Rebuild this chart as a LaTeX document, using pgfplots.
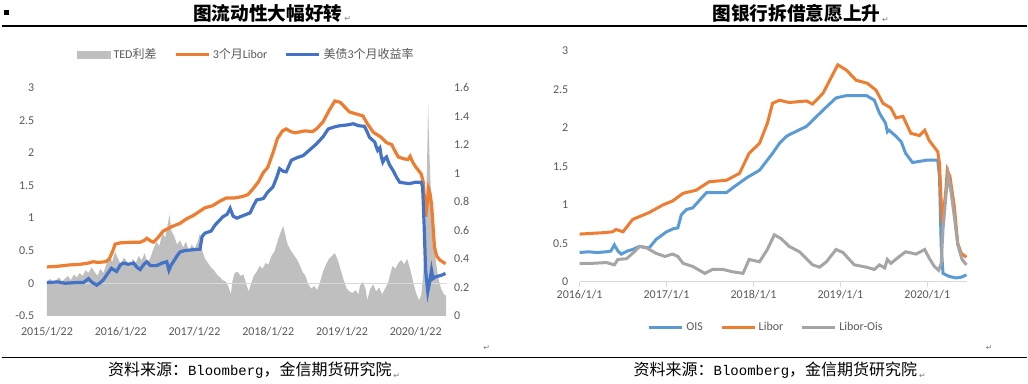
\documentclass[border=0pt]{standalone}
\usepackage{pgfplots}
\pgfplotsset{compat=1.18}
\usepackage{fontspec}
\setmainfont{Carlito}
\newfontfamily\cjk{Noto Sans CJK SC}
\newfontfamily\dejavu{DejaVu Sans}
\newfontfamily\mono{Liberation Mono}
\definecolor{ted}{HTML}{BFBFBF}
\definecolor{org}{HTML}{ED7D31}
\definecolor{blu}{HTML}{4472C4}
\definecolor{ois}{HTML}{5B9BD5}
\definecolor{lo}{HTML}{A5A5A5}
\definecolor{txt}{HTML}{595959}
\definecolor{zl}{HTML}{D9D9D9}
\pgfplotsset{
  base/.style={scale only axis,
    font=\fontsize{9}{10}\selectfont,
    /pgf/number format/assume math mode=true,
    ticklabel style={text=txt, font=\fontsize{9}{10}\selectfont},
    legend style={draw=none, fill=none, text=txt, font=\fontsize{9}{10}\selectfont,
      /tikz/every even column/.append style={column sep=11pt}},
    legend columns=-1,
    legend image code/.code={\draw[##1] (0pt,0pt) -- (24.75pt,0pt);},
  }
}
\begin{document}
\begin{tikzpicture}
\begin{scope}[x=0.75pt,y=0.75pt]
\path[use as bounding box] (0,0) rectangle (1028,384);
\end{scope}
% ---------------- LEFT CHART: TED area (right axis) ----------------
\begin{axis}[base, at={(35.25pt,51pt)}, anchor=south west, width=300pt, height=171pt,
  xmin=2015.056, xmax=2020.476, ymin=0, ymax=1.6,
  axis line style={draw=none}, tick style={draw=none},
  xtick=\empty, ytick={0,0.2,0.4,0.6,0.8,1,1.2,1.4,1.6},
  yticklabels={0,0.2,0.4,0.6,0.8,1,1.2,1.4,1.6},
  yticklabel pos=right, yticklabel style={anchor=west, xshift=2pt}]
\addplot[fill=ted, draw=none] coordinates {
(2015.056,0.24)(2015.10,0.26)(2015.14,0.22)(2015.18,0.25)(2015.22,0.27)(2015.26,0.24)
(2015.30,0.26)(2015.34,0.28)(2015.38,0.25)(2015.42,0.29)(2015.46,0.27)(2015.50,0.30)
(2015.54,0.28)(2015.58,0.32)(2015.62,0.30)(2015.66,0.34)(2015.70,0.31)(2015.74,0.28)
(2015.78,0.33)(2015.82,0.30)(2015.86,0.36)(2015.90,0.42)(2015.94,0.38)(2015.98,0.45)
(2016.02,0.40)(2016.06,0.36)(2016.10,0.41)(2016.14,0.38)(2016.18,0.34)(2016.22,0.40)
(2016.26,0.37)(2016.30,0.42)(2016.34,0.39)(2016.38,0.44)(2016.42,0.37)(2016.46,0.41)
(2016.50,0.47)(2016.54,0.52)(2016.58,0.49)(2016.62,0.58)(2016.66,0.55)(2016.70,0.66)
(2016.72,0.71)(2016.74,0.60)(2016.78,0.56)(2016.82,0.50)(2016.86,0.53)(2016.90,0.48)
(2016.94,0.52)(2016.98,0.46)(2017.02,0.50)(2017.06,0.47)(2017.10,0.52)(2017.13,0.58)
(2017.16,0.46)(2017.20,0.40)(2017.24,0.37)(2017.28,0.34)(2017.32,0.32)(2017.36,0.29)
(2017.40,0.27)(2017.44,0.25)(2017.48,0.24)(2017.52,0.20)(2017.55,0.15)(2017.57,0.24)
(2017.60,0.30)(2017.64,0.31)(2017.68,0.28)(2017.72,0.29)(2017.76,0.22)(2017.79,0.17)
(2017.82,0.22)(2017.86,0.28)(2017.90,0.31)(2017.94,0.35)(2017.98,0.33)(2018.02,0.37)
(2018.06,0.36)(2018.10,0.42)(2018.14,0.45)(2018.18,0.52)(2018.22,0.58)(2018.26,0.63)
(2018.29,0.56)(2018.32,0.50)(2018.36,0.46)(2018.40,0.43)(2018.44,0.40)(2018.48,0.36)
(2018.52,0.31)(2018.56,0.28)(2018.60,0.22)(2018.64,0.19)(2018.68,0.21)(2018.72,0.18)
(2018.76,0.24)(2018.80,0.31)(2018.84,0.36)(2018.88,0.40)(2018.92,0.42)(2018.96,0.44)
(2019.00,0.39)(2019.04,0.32)(2019.08,0.25)(2019.12,0.19)(2019.16,0.17)(2019.20,0.16)
(2019.24,0.18)(2019.28,0.15)(2019.30,0.21)(2019.34,0.24)(2019.38,0.18)(2019.40,0.11)
(2019.44,0.19)(2019.48,0.22)(2019.52,0.17)(2019.56,0.20)(2019.60,0.15)(2019.64,0.19)
(2019.68,0.23)(2019.71,0.29)(2019.74,0.35)(2019.78,0.33)(2019.82,0.37)(2019.86,0.39)
(2019.90,0.36)(2019.94,0.40)(2019.98,0.33)(2020.02,0.24)(2020.06,0.16)(2020.10,0.11)
(2020.13,0.14)(2020.16,0.30)(2020.18,0.55)(2020.20,0.85)(2020.215,1.20)(2020.225,1.49)
(2020.235,1.25)(2020.25,1.02)(2020.27,0.80)(2020.29,0.62)(2020.31,0.50)(2020.33,0.38)
(2020.36,0.27)(2020.40,0.19)(2020.44,0.15)(2020.47,0.14)
} \closedcycle;
\end{axis}
% ---------------- LEFT CHART: lines (left axis) ----------------
\begin{axis}[base, at={(35.25pt,51pt)}, anchor=south west, width=300pt, height=171pt,
  xmin=2015.056, xmax=2020.476, ymin=-0.5, ymax=3,
  axis line style={draw=none}, tick style={draw=none},
  xtick={2015.056,2016.056,2017.056,2018.056,2019.056,2020.056},
  xticklabels={2015/1/22,2016/1/22,2017/1/22,2018/1/22,2019/1/22,2020/1/22},
  ytick={-0.5,0,0.5,1,1.5,2,2.5,3},
  yticklabels={-0.5,0,0.5,1,1.5,2,2.5,3},
  yticklabel style={anchor=east, xshift=-6pt},
  xticklabel style={yshift=-5pt},
  legend style={at={(0.5,1.145)}, anchor=center}]
\addlegendimage{legend image code/.code={\fill[ted] (0pt,-2.4pt) rectangle (24.75pt,2.4pt);}}
\addlegendentry{TED{\cjk 利差}}
\addplot[zl, line width=0.8pt, forget plot] coordinates {(2015.056,0) (2020.476,0)};
\addplot[org, line width=2.4pt] coordinates {
(2015.056,0.25)(2015.20,0.26)(2015.35,0.28)(2015.50,0.29)(2015.62,0.31)(2015.68,0.33)
(2015.75,0.32)(2015.85,0.33)(2015.90,0.37)(2015.95,0.50)(2015.98,0.60)(2016.05,0.62)
(2016.20,0.63)(2016.32,0.63)(2016.38,0.66)(2016.41,0.69)(2016.46,0.65)(2016.50,0.63)
(2016.56,0.70)(2016.63,0.80)(2016.75,0.87)(2016.86,0.92)(2016.95,0.99)(2017.04,1.04)
(2017.12,1.10)(2017.20,1.16)(2017.30,1.19)(2017.40,1.26)(2017.49,1.31)(2017.60,1.31)
(2017.70,1.33)(2017.78,1.36)(2017.85,1.45)(2017.92,1.55)(2017.99,1.70)(2018.05,1.78)
(2018.12,2.00)(2018.18,2.22)(2018.25,2.34)(2018.30,2.37)(2018.36,2.33)(2018.42,2.31)
(2018.55,2.34)(2018.66,2.33)(2018.72,2.38)(2018.80,2.48)(2018.88,2.65)(2018.96,2.80)
(2019.03,2.78)(2019.10,2.70)(2019.16,2.63)(2019.25,2.60)(2019.34,2.57)(2019.40,2.45)
(2019.48,2.32)(2019.59,2.24)(2019.66,2.16)(2019.73,2.13)(2019.78,2.02)(2019.82,1.94)
(2019.90,1.91)(2019.95,1.90)(2019.98,1.95)(2020.02,1.85)(2020.06,1.78)(2020.13,1.68)
(2020.16,1.55)(2020.18,1.20)(2020.19,1.02)(2020.21,1.20)(2020.23,1.45)(2020.25,1.38)
(2020.27,1.22)(2020.29,0.90)(2020.31,0.56)(2020.34,0.42)(2020.38,0.36)(2020.46,0.30)
};
\addlegendentry{3{\cjk 个月}Libor}
\addplot[blu, line width=2.4pt] coordinates {
(2015.056,0.01)(2015.20,0.02)(2015.30,0.00)(2015.45,0.01)(2015.55,0.01)(2015.62,0.07)
(2015.66,0.02)(2015.73,-0.03)(2015.78,0.01)(2015.82,0.05)(2015.88,0.15)(2015.93,0.23)
(2016.00,0.18)(2016.05,0.28)(2016.09,0.31)(2016.16,0.29)(2016.23,0.31)(2016.28,0.24)
(2016.32,0.21)(2016.37,0.29)(2016.41,0.33)(2016.46,0.27)(2016.54,0.27)(2016.62,0.31)
(2016.68,0.33)(2016.71,0.20)(2016.74,0.28)(2016.77,0.33)(2016.82,0.42)(2016.86,0.48)
(2016.92,0.50)(2017.00,0.51)(2017.08,0.52)(2017.13,0.52)(2017.16,0.72)(2017.20,0.77)
(2017.28,0.80)(2017.34,0.90)(2017.40,0.97)(2017.44,1.02)(2017.50,1.06)(2017.54,1.15)
(2017.58,1.03)(2017.63,1.00)(2017.72,1.04)(2017.81,1.08)(2017.86,1.20)(2017.90,1.28)
(2017.99,1.30)(2018.05,1.40)(2018.12,1.48)(2018.17,1.62)(2018.21,1.76)(2018.26,1.72)
(2018.30,1.71)(2018.37,1.89)(2018.45,1.93)(2018.53,1.96)(2018.62,2.05)(2018.71,2.14)
(2018.80,2.25)(2018.87,2.37)(2018.95,2.40)(2019.03,2.42)(2019.12,2.43)(2019.21,2.45)
(2019.28,2.42)(2019.36,2.41)(2019.40,2.32)(2019.43,2.24)(2019.47,2.20)(2019.50,2.17)
(2019.52,2.10)(2019.54,2.04)(2019.57,2.08)(2019.59,1.94)(2019.61,1.86)(2019.64,1.92)
(2019.66,1.94)(2019.70,1.82)(2019.75,1.73)(2019.80,1.62)(2019.84,1.55)(2019.90,1.54)
(2019.97,1.53)(2020.05,1.55)(2020.13,1.55)(2020.15,1.48)(2020.17,0.90)(2020.19,0.20)
(2020.22,-0.13)(2020.25,0.05)(2020.27,0.20)(2020.29,0.07)(2020.33,0.10)(2020.40,0.12)
(2020.46,0.15)
};
\addlegendentry{{\cjk 美债}3{\cjk 个月收益率}}
\end{axis}
% ---------------- RIGHT CHART ----------------
\begin{axis}[base, at={(435pt,76.5pt)}, anchor=south west, width=291pt, height=173.25pt,
  xmin=2016, xmax=2020.46, ymin=0, ymax=3, clip=false,
  axis line style={draw=none}, tick style={draw=none},
  xtick={2016,2017,2018,2019,2020},
  xticklabels={2016/1/1,2017/1/1,2018/1/1,2019/1/1,2020/1/1},
  ytick={0,0.5,1,1.5,2,2.5,3},
  yticklabels={0,0.5,1,1.5,2,2.5,3},
  yticklabel style={anchor=east, xshift=-5pt},
  xticklabel style={yshift=-3pt},
  legend style={at={(0.482,-0.199)}, anchor=center}]
\addplot[zl, line width=0.8pt, forget plot] coordinates {(2016,0) (2020.46,0)};
\addplot[zl, line width=0.8pt, forget plot] coordinates {(2016,0) (2016,-0.065)};
\addplot[zl, line width=0.8pt, forget plot] coordinates {(2017,0) (2017,-0.065)};
\addplot[zl, line width=0.8pt, forget plot] coordinates {(2018,0) (2018,-0.065)};
\addplot[zl, line width=0.8pt, forget plot] coordinates {(2019,0) (2019,-0.065)};
\addplot[zl, line width=0.8pt, forget plot] coordinates {(2020,0) (2020,-0.065)};
\addplot[ois, line width=2.25pt] coordinates {
(2016.00,0.38)(2016.10,0.39)(2016.20,0.38)(2016.31,0.39)(2016.36,0.40)(2016.40,0.48)
(2016.44,0.40)(2016.48,0.36)(2016.55,0.40)(2016.61,0.42)(2016.69,0.46)(2016.80,0.44)
(2016.88,0.55)(2017.00,0.65)(2017.08,0.69)(2017.13,0.70)(2017.17,0.87)(2017.23,0.94)
(2017.30,0.96)(2017.38,1.06)(2017.46,1.16)(2017.58,1.16)(2017.69,1.16)(2017.76,1.22)
(2017.92,1.35)(2018.07,1.45)(2018.22,1.67)(2018.30,1.80)(2018.38,1.89)(2018.41,1.91)
(2018.61,2.02)(2018.80,2.23)(2018.95,2.39)(2019.07,2.42)(2019.30,2.42)(2019.39,2.36)
(2019.45,2.19)(2019.52,2.06)(2019.54,1.95)(2019.56,1.97)(2019.64,1.89)(2019.70,1.82)
(2019.75,1.67)(2019.83,1.55)(2019.99,1.58)(2020.12,1.58)(2020.14,1.37)(2020.16,0.46)
(2020.18,0.11)(2020.25,0.07)(2020.33,0.05)(2020.39,0.06)(2020.45,0.09)
};
\addlegendentry{OIS}
\addplot[org, line width=2.25pt] coordinates {
(2016.00,0.62)(2016.15,0.63)(2016.30,0.64)(2016.38,0.65)(2016.42,0.68)(2016.50,0.65)
(2016.61,0.81)(2016.80,0.90)(2016.96,1.00)(2017.07,1.05)(2017.19,1.15)(2017.34,1.19)
(2017.49,1.30)(2017.69,1.32)(2017.84,1.41)(2017.95,1.67)(2018.07,1.80)(2018.16,2.06)
(2018.22,2.32)(2018.30,2.36)(2018.41,2.33)(2018.61,2.35)(2018.68,2.31)(2018.80,2.45)
(2018.97,2.82)(2019.07,2.75)(2019.18,2.62)(2019.31,2.58)(2019.41,2.49)(2019.49,2.32)
(2019.58,2.26)(2019.64,2.13)(2019.72,2.15)(2019.81,1.93)(2019.91,1.90)(2019.97,1.97)
(2020.02,1.84)(2020.12,1.69)(2020.14,1.54)(2020.17,0.76)(2020.21,1.15)(2020.23,1.45)
(2020.26,1.37)(2020.31,0.98)(2020.35,0.50)(2020.39,0.37)(2020.45,0.32)
};
\addlegendentry{Libor}
\addplot[lo, line width=2.25pt] coordinates {
(2016.00,0.24)(2016.15,0.24)(2016.31,0.25)(2016.40,0.22)(2016.44,0.29)(2016.54,0.30)
(2016.63,0.39)(2016.69,0.46)(2016.77,0.44)(2016.88,0.37)(2016.98,0.33)(2017.07,0.36)
(2017.13,0.33)(2017.19,0.24)(2017.30,0.20)(2017.44,0.11)(2017.53,0.16)(2017.65,0.16)
(2017.76,0.13)(2017.88,0.11)(2017.95,0.29)(2018.07,0.26)(2018.16,0.42)(2018.24,0.61)
(2018.32,0.56)(2018.41,0.46)(2018.53,0.39)(2018.68,0.22)(2018.76,0.19)(2018.84,0.26)
(2018.95,0.42)(2019.03,0.38)(2019.16,0.22)(2019.30,0.19)(2019.39,0.16)(2019.45,0.22)
(2019.51,0.18)(2019.54,0.29)(2019.58,0.24)(2019.68,0.33)(2019.75,0.39)(2019.87,0.36)
(2019.97,0.42)(2020.02,0.31)(2020.08,0.20)(2020.13,0.15)(2020.16,0.24)(2020.18,0.68)
(2020.22,1.19)(2020.24,1.39)(2020.27,1.19)(2020.31,0.85)(2020.35,0.48)(2020.40,0.29)
(2020.45,0.22)
};
\addlegendentry{Libor-Ois}
\end{axis}
% ---------------- page text ----------------
\begin{scope}[x=0.75pt,y=0.75pt]
\fill (4,369) rectangle (9,374);
\draw[line width=1.1pt] (2,358) -- (1028,358);
\draw[line width=1.1pt] (2,26) -- (1028,26);
\node[font=\cjk\bfseries\fontsize{14}{16}\selectfont, inner sep=0] (t1) at (268,371) {图流动性大幅好转};
\node[anchor=south west, inner sep=0, text=gray, font=\dejavu\fontsize{6}{6}\selectfont] at ([xshift=1pt]t1.south east) {↵};
\node[font=\cjk\bfseries\fontsize{14}{16}\selectfont, inner sep=0] (t2) at (797,371) {图银行拆借意愿上升};
\node[anchor=south west, inner sep=0, text=gray, font=\dejavu\fontsize{6}{6}\selectfont] at ([xshift=1pt]t2.south east) {↵};
\node[font=\cjk\fontsize{12}{14}\selectfont, inner sep=0] (s1) at (250,13.5) {资料来源：{\mono\fontsize{10.5}{14}\selectfont Bloomberg}，金信期货研究院};
\node[anchor=south west, inner sep=0, text=gray, font=\dejavu\fontsize{6}{6}\selectfont] at ([xshift=1pt]s1.south east) {↵};
\node[font=\cjk\fontsize{12}{14}\selectfont, inner sep=0] (s2) at (776,13.5) {资料来源：{\mono\fontsize{10.5}{14}\selectfont Bloomberg}，金信期货研究院};
\node[anchor=south west, inner sep=0, text=gray, font=\dejavu\fontsize{6}{6}\selectfont] at ([xshift=1pt]s2.south east) {↵};
\node[text=gray, font=\dejavu\fontsize{6}{6}\selectfont] at (487,36) {↵};
\node[text=gray, font=\dejavu\fontsize{6}{6}\selectfont] at (990,36) {↵};
\end{scope}
\end{tikzpicture}
\end{document}
